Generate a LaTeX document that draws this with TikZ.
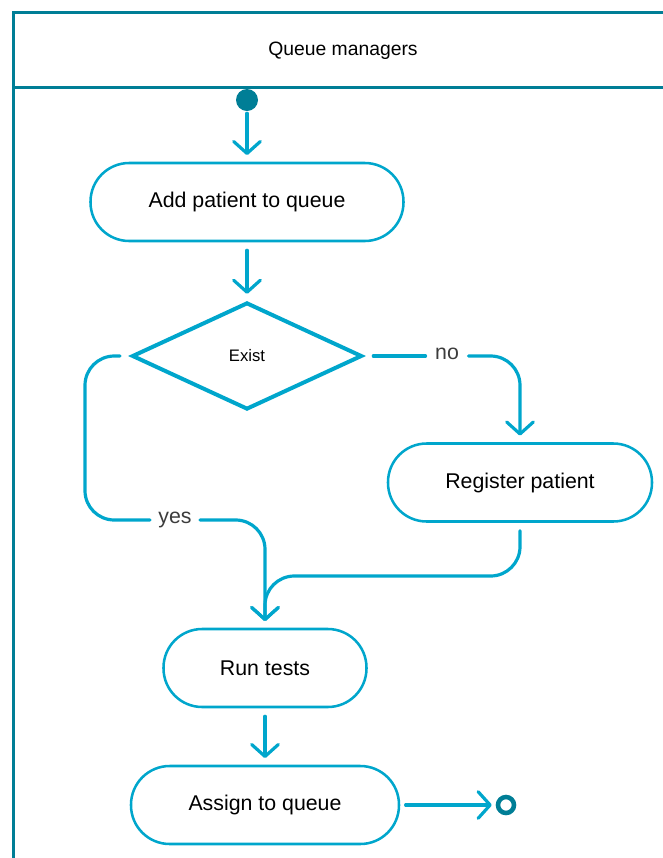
\documentclass[tikz,border=0pt]{standalone}
\usepackage{fontspec}
\setmainfont{Liberation Sans}
\usetikzlibrary{arrows.meta,shapes.geometric}
\definecolor{lanecol}{RGB}{0,126,150}
\definecolor{flowcol}{RGB}{0,166,204}
\definecolor{labelcol}{RGB}{60,60,60}
\begin{document}
\begin{tikzpicture}[x=0.75pt,y=-0.75pt,
    lane/.style={draw=lanecol,line width=2.25pt},
    activity/.style={draw=flowcol,line width=1.9pt,rounded corners=29pt,
      minimum height=58.5pt,inner sep=0pt,font=\fontsize{16}{19}\selectfont},
    decision/.style={diamond,draw=flowcol,line width=3pt,aspect=2.15,
      minimum width=172.5pt,minimum height=80.25pt,inner sep=0pt,
      font=\fontsize{12.5}{15}\selectfont},
    seg/.style={draw=flowcol,line width=2.4pt,rounded corners=22pt,line cap=round,
      shorten >=5pt,shorten <=6pt},
    flow/.style={seg,-{Straight Barb[length=9pt,width=20pt,round]}},
    lbl/.style={text=labelcol,inner sep=0pt,text height=1ex,text depth=0pt,
      font=\fontsize{16}{19}\selectfont},
    startdot/.style={circle,fill=lanecol,minimum size=16.5pt,inner sep=0pt},
    enddot/.style={circle,draw=lanecol,line width=3.4pt,minimum size=12pt,inner sep=0pt}]
  \useasboundingbox (0,0) rectangle (663,858);
  % swimlane
  \draw[lane] (13,858) -- (13,12) -- (663,12);
  \draw[lane] (13,87) -- (663,87);
  \node[font=\fontsize{14.5}{17}\selectfont] (lane) at (343,51) {Queue managers};
  % nodes
  \node[startdot] (start) at (247,100) {};
  \node[activity,minimum width=234.75pt] (add) at (247,202) {Add patient to queue};
  \node[decision] (exist) at (247,356) {Exist};
  \node[activity,minimum width=198pt] (reg) at (520,482.5) {Register patient};
  \node[activity,minimum width=152.25pt] (run) at (265,668) {Run tests};
  \node[activity,minimum width=201pt] (assign) at (265,805) {Assign to queue};
  \node[enddot] (stop) at (506,805) {};
  \node[lbl] (no) at (447,356) {no};
  \node[lbl] (yes) at (175,520) {yes};
  % connectors
  \draw[flow,shorten <=1.5pt] (start) -- (add);
  \draw[flow] (add) -- (exist);
  \draw[seg,shorten <=7pt,shorten >=7pt] (exist.east) -- (no.west);
  \draw[flow,shorten <=7pt] (no.east) -| (reg.north);
  \draw[seg,shorten <=7.5pt,shorten >=6pt] (exist.west) -- (85,356) |- (yes.west);
  \draw[flow,shorten <=6pt] (yes.east) -| (run.north);
  \draw[flow] (reg.south) |- (265,576) -- (run.north);
  \draw[flow] (run) -- (assign);
  \draw[flow,shorten <=4pt,shorten >=3pt] (assign.east) -- (stop);
\end{tikzpicture}
\end{document}
